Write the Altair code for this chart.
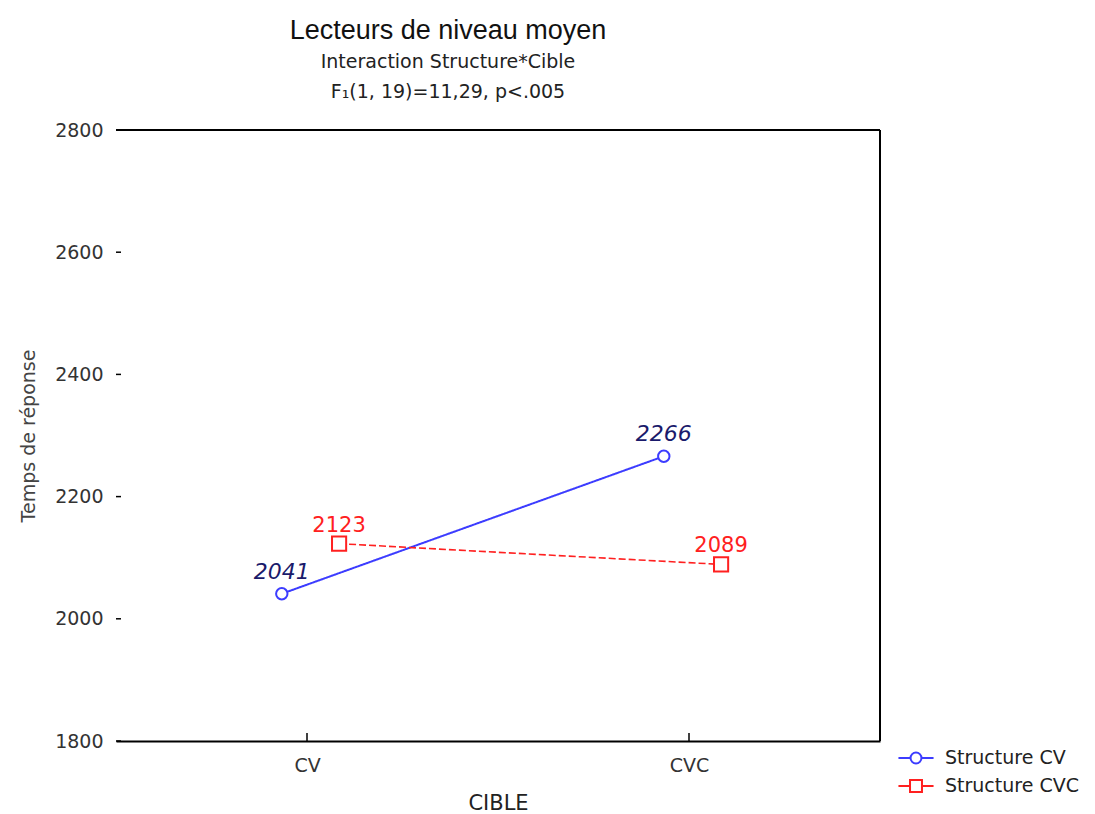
import altair as alt
import pandas as pd

# Mean response times per target type (CIBLE) and syllable structure
cibles = ["CV", "CVC", "CV", "CVC"]
structures = ["Structure CV", "Structure CV", "Structure CVC", "Structure CVC"]
temps = [2041, 2266, 2123, 2089]

series = ["Structure CV", "Structure CVC"]
x_categories = ["CV", "CVC"]
y_ticks = [1800, 2000, 2200, 2400, 2600, 2800]

W, H = 764, 611

df = pd.DataFrame({"cible": cibles, "structure": structures, "temps": temps})
ticks_y = pd.DataFrame({"temps": y_ticks})
ticks_x = pd.DataFrame({"pos": list(range(len(x_categories)))})

line_colors = ["#3c3cff", "#ff2020"]
label_colors = ["#1a1a6b", "#ff2020"]

x_scale = alt.Scale(domain=[-0.5, 1.5], nice=False, zero=False)
y_scale = alt.Scale(domain=[1800, 2800], nice=False, zero=False)
color_scale = alt.Scale(domain=series, range=line_colors)

# category index plus a small per-series horizontal shift so markers don't overlap
pos_expr = (
    "indexof(['CV','CVC'], datum.cible) + "
    "(datum.structure == 'Structure CV' ? -0.066 : 0.084)"
)

base = alt.Chart(df).transform_calculate(pos=pos_expr)

x_axis = alt.Axis(
    values=[0, 1],
    labelExpr="datum.value == 0 ? 'CV' : 'CVC'",
    title="CIBLE",
    grid=False,
    ticks=False,
    domain=True,
    domainColor="#000",
    domainWidth=2,
    labelFont="DejaVu Sans",
    labelFontSize=19,
    labelColor="#333",
    labelPadding=15,
    titleFont="DejaVu Sans",
    titleFontSize=21,
    titleFontWeight="normal",
    titleColor="#222",
    titlePadding=17,
)
y_axis = alt.Axis(
    values=y_ticks,
    format="d",
    title="Temps de réponse",
    grid=False,
    ticks=False,
    domain=False,
    labelFont="DejaVu Sans",
    labelFontSize=19,
    labelColor="#333",
    labelPadding=13,
    titleFont="DejaVu Sans",
    titleFontSize=19,
    titleFontWeight="normal",
    titleColor="#444",
    titlePadding=16,
)

x_enc = alt.X("pos:Q", scale=x_scale, axis=x_axis)
y_enc = alt.Y("temps:Q", scale=y_scale, axis=y_axis)

lines = base.mark_line().encode(
    x=x_enc,
    y=y_enc,
    color=alt.Color("structure:N", scale=color_scale, legend=None),
    strokeDash=alt.StrokeDash(
        "structure:N",
        scale=alt.Scale(domain=series, range=[[1, 0], [7, 3]]),
        legend=None,
    ),
    strokeWidth=alt.StrokeWidth(
        "structure:N", scale=alt.Scale(domain=series, range=[2, 1.6]), legend=None
    ),
    detail="structure:N",
    order="pos:Q",
)

markers = base.mark_point(filled=False, fill="white", fillOpacity=1, strokeWidth=2).encode(
    x=x_enc,
    y=y_enc,
    color=alt.Color("structure:N", scale=color_scale, legend=None),
    shape=alt.Shape(
        "structure:N", scale=alt.Scale(domain=series, range=["circle", "square"]), legend=None
    ),
    size=alt.Size("structure:N", scale=alt.Scale(domain=series, range=[130, 200]), legend=None),
)

labels_cv = base.transform_filter(alt.datum.structure == series[0]).mark_text(
    font="DejaVu Sans", fontSize=22, fontStyle="italic", color=label_colors[0],
    baseline="alphabetic", dy=-15,
).encode(x=x_enc, y=y_enc, text="temps:Q")

labels_cvc = base.transform_filter(alt.datum.structure == series[1]).mark_text(
    font="DejaVu Sans", fontSize=21, color=label_colors[1],
    baseline="alphabetic", dy=-12,
).encode(x=x_enc, y=y_enc, text="temps:Q")

# legend glyphs: a short line crossed by the series marker
path_circle = "M-1.35,0H-0.42M0.42,0H1.35M-0.42,0A0.42,0.42 0 1,0 0.42,0A0.42,0.42 0 1,0 -0.42,0"
path_square = "M-1.35,0H-0.46M0.46,0H1.35M-0.46,-0.46H0.46V0.46H-0.46Z"

legend_cfg = dict(
    title=None,
    orient="none",
    legendX=786,
    legendY=614,
    symbolSize=676,
    symbolStrokeWidth=2,
    symbolOpacity=1,
    symbolFillColor="transparent",
    labelFont="DejaVu Sans",
    labelFontSize=19,
    labelColor="#222",
    labelOffset=15,
    rowPadding=4,
    padding=0,
)

legend_layer = base.mark_point(opacity=0, filled=False).encode(
    x=x_enc,
    y=y_enc,
    color=alt.Color("structure:N", scale=color_scale, legend=alt.Legend(**legend_cfg)),
    shape=alt.Shape(
        "structure:N",
        scale=alt.Scale(domain=series, range=[path_circle, path_square]),
        legend=alt.Legend(**legend_cfg),
    ),
)

# inward tick marks on the value and category axes
y_tick_marks = alt.Chart(ticks_y).mark_rule(color="#000", strokeWidth=1.5).encode(
    y=y_enc,
    x=alt.value(0),
    x2=alt.value(5),
)
x_tick_marks = alt.Chart(ticks_x).mark_rule(color="#000", strokeWidth=1.5).encode(
    x=x_enc,
    y=alt.value(H),
    y2=alt.value(H - 8),
)

# top and right edges of the plot frame
frame = alt.Chart(pd.DataFrame({"k": [0]}))
frame_top = frame.mark_rule(color="#000", strokeWidth=2).encode(
    x=alt.value(0), x2=alt.value(W), y=alt.value(0)
)
frame_right = frame.mark_rule(color="#000", strokeWidth=2).encode(
    x=alt.value(W), y=alt.value(0), y2=alt.value(H)
)

chart = (
    alt.layer(
        lines, markers, labels_cv, labels_cvc, legend_layer,
        y_tick_marks, x_tick_marks, frame_top, frame_right,
    )
    .resolve_scale(color="independent", shape="independent")
    .properties(
        width=W,
        height=H,
        autosize=alt.AutoSizeParams(type="none"),
        padding={"left": 116, "top": 130, "right": 215, "bottom": 73},
        background="white",
        title=alt.Title(
            "Lecteurs de niveau moyen",
            subtitle=["Interaction Structure*Cible", "F\u2081(1, 19)=11,29, p<.005"],
            font="Liberation Sans",
            fontSize=27,
            fontWeight="normal",
            color="#111",
            subtitleFont="DejaVu Sans",
            subtitleFontSize=19,
            subtitleColor="#222",
            subtitleLineHeight=30,
            subtitlePadding=8,
            anchor="middle",
            dx=-50,
            offset=18,
        ),
    )
    .configure_view(stroke=None)
)

chart.save("out.html", embed_options={"renderer": "svg", "actions": False})
